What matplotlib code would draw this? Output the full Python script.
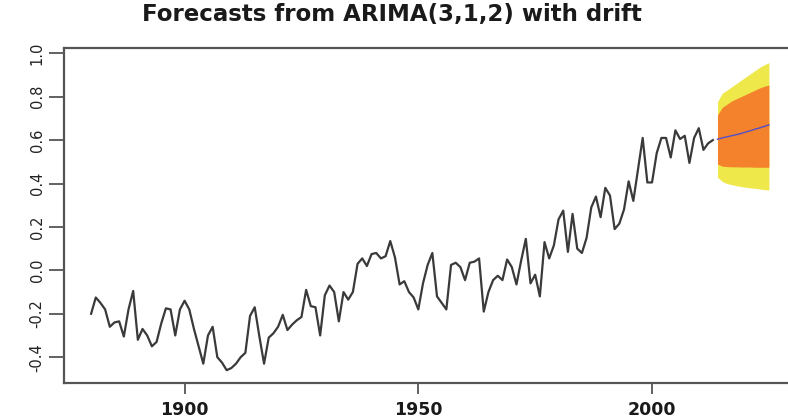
import numpy as np
import matplotlib
matplotlib.use("Agg")
import matplotlib.pyplot as plt

# ---- data ----
hist_start = 1880
hist_values = [
    -0.20, -0.125, -0.15, -0.18, -0.26, -0.24, -0.235, -0.305, -0.18, -0.095,   # 1880s
    -0.32, -0.27, -0.30, -0.35, -0.33, -0.245, -0.175, -0.18, -0.30, -0.18,     # 1890s
    -0.14, -0.18, -0.27, -0.35, -0.43, -0.30, -0.26, -0.40, -0.425, -0.46,      # 1900s
    -0.45, -0.43, -0.40, -0.38, -0.21, -0.17, -0.305, -0.43, -0.31, -0.29,      # 1910s
    -0.26, -0.205, -0.275, -0.25, -0.23, -0.215, -0.09, -0.165, -0.17, -0.30,   # 1920s
    -0.115, -0.07, -0.10, -0.235, -0.10, -0.135, -0.10, 0.03, 0.055, 0.02,      # 1930s
    0.075, 0.08, 0.055, 0.065, 0.135, 0.06, -0.065, -0.05, -0.10, -0.125,       # 1940s
    -0.18, -0.06, 0.025, 0.08, -0.12, -0.15, -0.18, 0.025, 0.035, 0.015,        # 1950s
    -0.045, 0.035, 0.04, 0.055, -0.19, -0.10, -0.045, -0.025, -0.045, 0.05,     # 1960s
    0.015, -0.065, 0.045, 0.145, -0.06, -0.02, -0.12, 0.13, 0.055, 0.115,       # 1970s
    0.235, 0.275, 0.085, 0.26, 0.10, 0.08, 0.15, 0.29, 0.34, 0.245,             # 1980s
    0.38, 0.345, 0.19, 0.215, 0.28, 0.41, 0.32, 0.465, 0.61, 0.405,             # 1990s
    0.405, 0.54, 0.61, 0.61, 0.52, 0.645, 0.605, 0.62, 0.495, 0.61,             # 2000s
    0.655, 0.555, 0.585, 0.60,                                                  # 2010-2013
]
fc_start = 2014
fc_mean = [0.604, 0.610, 0.615, 0.620, 0.625, 0.630, 0.637, 0.643, 0.650, 0.656, 0.663, 0.670]
fc_lo80 = [0.490, 0.480, 0.478, 0.477, 0.477, 0.476, 0.476, 0.476, 0.475, 0.475, 0.475, 0.475]
fc_hi80 = [0.716, 0.750, 0.765, 0.780, 0.790, 0.800, 0.810, 0.820, 0.830, 0.840, 0.848, 0.854]
fc_lo95 = [0.429, 0.410, 0.400, 0.395, 0.390, 0.386, 0.383, 0.380, 0.378, 0.375, 0.372, 0.370]
fc_hi95 = [0.777, 0.815, 0.830, 0.845, 0.860, 0.875, 0.890, 0.905, 0.920, 0.935, 0.947, 0.957]

title = "Forecasts from ARIMA(3,1,2) with drift"
x_ticks = [1900, 1950, 2000]
y_ticks = [-0.4, -0.2, 0.0, 0.2, 0.4, 0.6, 0.8, 1.0]

hist_years = np.arange(hist_start, hist_start + len(hist_values))
fc_years = np.arange(fc_start, fc_start + len(fc_mean))

fig = plt.figure(figsize=(7.88, 4.20), dpi=100)
ax = fig.add_axes([64 / 788, (420 - 383) / 420, (796 - 64) / 788, (383 - 48.3) / 420])

ax.fill_between(fc_years, fc_lo95, fc_hi95, color="#EEE84A", lw=0, zorder=1)
ax.fill_between(fc_years, fc_lo80, fc_hi80, color="#F4812C", lw=0, zorder=2)
ax.plot(hist_years, hist_values, color="#3a3a3a", lw=1.6, zorder=3)
ax.plot(fc_years, fc_mean, color="#5050C8", lw=1.0, zorder=4)

ax.set_xlim(1874.2, 2030.8)
ax.set_ylim(-0.519, 1.023)

ax.set_xticks(x_ticks)
ax.set_xticklabels([str(t) for t in x_ticks], fontsize=12.5, color="#1a1a1a",
                   fontweight="semibold")
ax.set_yticks(y_ticks)
ax.set_yticklabels([f"{t:.1f}" for t in y_ticks], fontsize=10.5, rotation=90,
                   va="center", color="#222222")
ax.tick_params(axis="x", length=8, width=1.3, color="#555555", pad=5)
ax.tick_params(axis="y", length=11, width=1.3, color="#555555", pad=3)
for s in ax.spines.values():
    s.set_color("#555555")
    s.set_linewidth(1.6)

fig.text(0.497, 1 - 15 / 420, title, ha="center", va="center",
         fontsize=16.5, fontweight="bold", color="#1a1a1a")

fig.savefig("out.png", dpi=100)
